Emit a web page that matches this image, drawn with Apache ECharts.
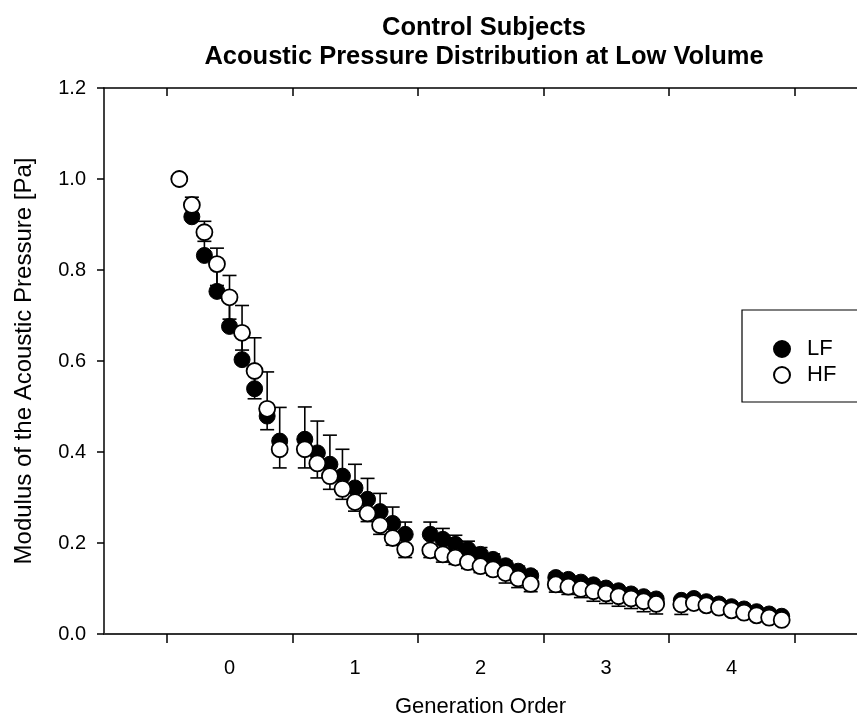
<!DOCTYPE html>
<html>
<head>
<meta charset="utf-8">
<script src="https://cdn.jsdelivr.net/npm/echarts@6/dist/echarts.min.js"></script>
<style>
  html, body { margin: 0; padding: 0; background: #fff; }
  #chart { width: 857px; height: 723px; }
</style>
</head>
<body>
<div id="chart"></div>
<script>
// Generation orders shown on the x axis
const generations = ['0', '1', '2', '3', '4'];
// Sampling positions inside each generation (fraction of the generation span)
const slots = [0.1, 0.2, 0.3, 0.4, 0.5, 0.6, 0.7, 0.8, 0.9];

// Modulus of the acoustic pressure [Pa], low frequency (LF)
const lfMean = [
  1.000, 0.917, 0.832, 0.753, 0.676, 0.603, 0.539, 0.479, 0.424,
  0.428, 0.398, 0.373, 0.347, 0.321, 0.296, 0.269, 0.243, 0.219,
  0.219, 0.208, 0.197, 0.186, 0.175, 0.164, 0.150, 0.138, 0.128,
  0.124, 0.120, 0.114, 0.108, 0.101, 0.095, 0.088, 0.082, 0.077,
  0.074, 0.078, 0.071, 0.066, 0.060, 0.055, 0.049, 0.044, 0.039
];
// LF standard deviation (drawn upward)
const lfErr = [
  0.000, 0.043, 0.075, 0.095, 0.112, 0.119, 0.112, 0.097, 0.074,
  0.071, 0.070, 0.064, 0.059, 0.052, 0.046, 0.040, 0.036, 0.027,
  0.027, 0.024, 0.020, 0.018, 0.015, 0.012, 0.011, 0.011, 0.010,
  0.010, 0.008, 0.007, 0.006, 0.005, 0.005, 0.004, 0.004, 0.003,
  0.005, 0.004, 0.003, 0.003, 0.003, 0.002, 0.002, 0.002, 0.002
];
// Modulus of the acoustic pressure [Pa], high frequency (HF)
const hfMean = [
  1.000, 0.943, 0.883, 0.813, 0.740, 0.662, 0.578, 0.495, 0.406,
  0.406, 0.375, 0.347, 0.319, 0.290, 0.265, 0.239, 0.211, 0.186,
  0.184, 0.175, 0.168, 0.158, 0.149, 0.142, 0.134, 0.122, 0.110,
  0.109, 0.104, 0.099, 0.094, 0.089, 0.083, 0.078, 0.072, 0.066,
  0.065, 0.068, 0.063, 0.058, 0.052, 0.047, 0.041, 0.036, 0.031
];
// HF standard deviation (drawn downward)
const hfErr = [
  0.000, 0.010, 0.020, 0.047, 0.048, 0.038, 0.061, 0.046, 0.041,
  0.041, 0.032, 0.029, 0.023, 0.020, 0.018, 0.020, 0.016, 0.018,
  0.016, 0.017, 0.015, 0.014, 0.014, 0.013, 0.022, 0.020, 0.017,
  0.017, 0.017, 0.019, 0.022, 0.022, 0.022, 0.022, 0.023, 0.022,
  0.022, 0.004, 0.003, 0.003, 0.003, 0.003, 0.003, 0.003, 0.003
];
// Y axis tick values
const yTicks = [0, 0.2, 0.4, 0.6, 0.8, 1.0, 1.2];

// x position of every sample: generation index + slot offset
const xPos = [];
generations.forEach((g, gi) => slots.forEach(s => xPos.push(gi + s)));

const lfPoints = xPos.map((x, i) => [x, lfMean[i]]);
const hfPoints = xPos.map((x, i) => [x, hfMean[i]]);
const lfBars = xPos.map((x, i) => [x, lfMean[i], lfMean[i] + lfErr[i]]);
const hfBars = xPos.map((x, i) => [x, hfMean[i], hfMean[i] - hfErr[i]]);

const FONT = '"Liberation Sans", Arial, Helvetica, sans-serif';
const INK = '#000';

function errorBarRenderer(params, api) {
  const from = api.coord([api.value(0), api.value(1)]);
  const to = api.coord([api.value(0), api.value(2)]);
  const half = 7;
  const style = { stroke: INK, lineWidth: 1.6, fill: null };
  return {
    type: 'group',
    children: [
      { type: 'line', shape: { x1: from[0], y1: from[1], x2: to[0], y2: to[1] }, style },
      { type: 'line', shape: { x1: to[0] - half, y1: to[1], x2: to[0] + half, y2: to[1] }, style }
    ]
  };
}

const tickPositions = generations.map((g, i) => i).concat([generations.length]);
const labelPositions = generations.map((g, i) => i + 0.5);

const chart = echarts.init(document.getElementById('chart'), null, { renderer: 'canvas' });
chart.setOption({
  backgroundColor: '#fff',
  animation: false,
  textStyle: { fontFamily: FONT },
  title: {
    text: 'Control Subjects\nAcoustic Pressure Distribution at Low Volume',
    left: 479,
    top: 9,
    textAlign: 'center',
    textStyle: { fontFamily: FONT, fontSize: 25.5, fontWeight: 'bold', color: INK, lineHeight: 28.5 }
  },
  legend: {
    orient: 'vertical',
    left: 742,
    top: 310,
    data: ['LF', 'HF'],
    itemWidth: 16,
    itemHeight: 16,
    itemGap: 4,
    padding: [28, 70, 16, 31],
    borderColor: INK,
    borderWidth: 1.2,
    borderRadius: 0,
    textStyle: { fontFamily: FONT, fontSize: 22, color: INK, lineHeight: 22, padding: [0, 0, 0, 12] }
  },
  grid: { left: 104, right: -7, top: 88, bottom: 88, containLabel: false },
  xAxis: [
    {
      type: 'value',
      min: -0.5,
      max: 5.5,
      position: 'bottom',
      name: 'Generation Order',
      nameLocation: 'middle',
      nameGap: 62,
      nameTextStyle: { fontFamily: FONT, fontSize: 22, color: INK },
      axisLine: { show: true, onZero: false, lineStyle: { color: '#333', width: 2 } },
      axisTick: { show: true, inside: false, length: 9, customValues: tickPositions, lineStyle: { color: INK, width: 1.5 } },
      axisLabel: {
        show: true,
        customValues: labelPositions,
        margin: 24,
        fontFamily: FONT,
        fontSize: 20,
        color: INK,
        formatter: v => generations[Math.floor(v)]
      },
      splitLine: { show: false }
    },
    {
      type: 'value',
      min: -0.5,
      max: 5.5,
      position: 'top',
      axisLine: { show: true, onZero: false, lineStyle: { color: INK, width: 1.5 } },
      axisTick: { show: true, inside: true, length: 8, customValues: tickPositions, lineStyle: { color: INK, width: 1.5 } },
      axisLabel: { show: false },
      splitLine: { show: false }
    }
  ],
  yAxis: {
    type: 'value',
    min: 0,
    max: 1.2,
    interval: 0.2,
    name: 'Modulus of the Acoustic Pressure [Pa]',
    nameLocation: 'middle',
    nameGap: 68,
    nameTextStyle: { fontFamily: FONT, fontSize: 24, color: INK },
    axisLine: { show: true, onZero: false, lineStyle: { color: INK, width: 1.5 } },
    axisTick: { show: true, inside: false, length: 7, customValues: yTicks, lineStyle: { color: INK, width: 1.5 } },
    axisLabel: {
      margin: 18,
      fontFamily: FONT,
      fontSize: 20,
      color: INK,
      formatter: v => v.toFixed(1)
    },
    splitLine: { show: false }
  },
  series: [
    {
      name: 'LF error',
      type: 'custom',
      renderItem: errorBarRenderer,
      data: lfBars,
      encode: { x: 0, y: [1, 2] },
      z: 2,
      silent: true
    },
    {
      name: 'LF',
      type: 'scatter',
      data: lfPoints,
      symbol: 'circle',
      symbolSize: 16,
      itemStyle: { color: INK, borderColor: INK, borderWidth: 1, opacity: 1 },
      z: 3
    },
    {
      name: 'HF error',
      type: 'custom',
      renderItem: errorBarRenderer,
      data: hfBars,
      encode: { x: 0, y: [1, 2] },
      z: 4,
      silent: true
    },
    {
      name: 'HF',
      type: 'scatter',
      data: hfPoints,
      symbol: 'circle',
      symbolSize: 16,
      itemStyle: { color: '#fff', borderColor: INK, borderWidth: 1.8, opacity: 1 },
      z: 5
    }
  ]
});
</script>
</body>
</html>
